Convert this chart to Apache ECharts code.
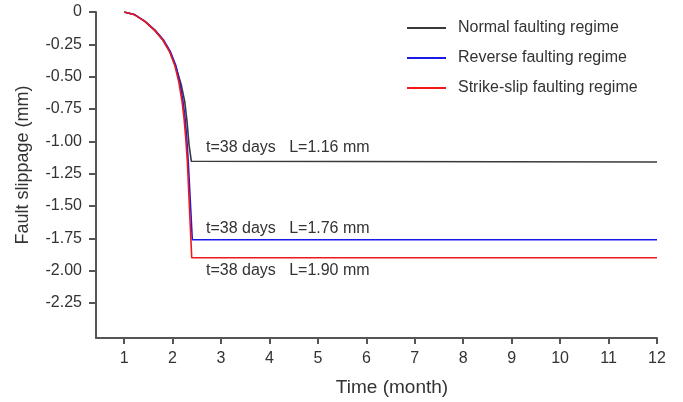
<!DOCTYPE html>
<html>
<head>
<meta charset="utf-8">
<script src="https://cdn.jsdelivr.net/npm/echarts@6/dist/echarts.min.js"></script>
<style>
  html, body { margin: 0; padding: 0; background: #fff; }
  #chart { width: 683px; height: 402px; }
</style>
</head>
<body>
<div id="chart"></div>
<script>
// Fault slippage over time for three faulting regimes
const seriesNames = ['Normal faulting regime', 'Reverse faulting regime', 'Strike-slip faulting regime'];

const normalTime = [1.000, 1.221, 1.427, 1.633, 1.804, 1.946, 2.078, 2.181, 2.252, 2.299, 2.340, 2.388, 2.412, 12];
const normalSlip = [0, -0.022, -0.073, -0.142, -0.219, -0.309, -0.436, -0.565, -0.693, -0.846, -1.025, -1.154, -1.16, -1.16];

const reverseTime = [1.000, 1.225, 1.433, 1.643, 1.819, 1.959, 2.066, 2.148, 2.216, 2.258, 2.293, 2.324, 2.408, 12];
const reverseSlip = [0, -0.022, -0.073, -0.142, -0.219, -0.309, -0.411, -0.539, -0.693, -0.820, -0.974, -1.154, -1.76, -1.76];

const strikeTime = [1.000, 1.221, 1.427, 1.633, 1.804, 1.942, 2.045, 2.128, 2.196, 2.237, 2.272, 2.305, 2.396, 12];
const strikeSlip = [0, -0.022, -0.073, -0.142, -0.219, -0.309, -0.411, -0.539, -0.693, -0.820, -0.974, -1.154, -1.90, -1.90];

// Time to stabilise (days) and final slippage (mm) for each regime
const stableDays = [38, 38, 38];
const finalSlip = [1.16, 1.76, 1.90];

const monthTicks = [1, 2, 3, 4, 5, 6, 7, 8, 9, 10, 11, 12];
const slipTicks = [0, -0.25, -0.5, -0.75, -1.0, -1.25, -1.5, -1.75, -2.0, -2.25];

const colors = ['#3a3a3a', '#1a1ae6', '#f01818'];
const notePos = [[2.69, -1.052], [2.69, -1.674], [2.69, -1.997]];

const FONT = 'Liberation Sans, Arial, sans-serif';
const TEXT = '#333';
const AXIS = '#555';

function pairs(xs, ys) { return xs.map((x, i) => [x, ys[i]]); }

const dataSets = [pairs(normalTime, normalSlip), pairs(reverseTime, reverseSlip), pairs(strikeTime, strikeSlip)];

const chart = echarts.init(document.getElementById('chart'), null, { renderer: 'canvas' });

chart.setOption({
  animation: false,
  backgroundColor: '#fff',
  textStyle: { fontFamily: FONT },
  grid: { left: 96, right: 26, top: 12, bottom: 62, containLabel: false },
  legend: {
    orient: 'vertical',
    left: 402,
    top: 15,
    itemWidth: 39,
    itemHeight: 14,
    itemGap: 14,
    icon: 'path://M0,0 L39,0 L39,2 L0,2 Z',
    textStyle: { fontSize: 16, color: TEXT, fontFamily: FONT, padding: [0, 0, 0, 7] },
    data: seriesNames
  },
  xAxis: {
    type: 'value',
    min: 0.42,
    max: 12,
    name: 'Time (month)',
    nameLocation: 'middle',
    nameGap: 40,
    nameTextStyle: { fontSize: 19, color: TEXT, fontFamily: FONT, padding: [0, 0, 0, 31] },
    axisLine: { show: true, onZero: false, lineStyle: { color: AXIS, width: 2 } },
    axisTick: { show: true, customValues: monthTicks, length: 6, lineStyle: { color: AXIS, width: 2 } },
    axisLabel: { customValues: monthTicks, margin: 13, fontSize: 16, color: TEXT, fontFamily: FONT },
    splitLine: { show: false }
  },
  yAxis: {
    type: 'value',
    min: -2.52,
    max: 0,
    name: 'Fault slippage (mm)',
    nameLocation: 'middle',
    nameGap: 64,
    nameTextStyle: { fontSize: 18, color: TEXT, fontFamily: FONT, padding: [0, 0, 0, 20] },
    axisLine: { show: true, onZero: false, lineStyle: { color: AXIS, width: 2 } },
    axisTick: { show: true, customValues: slipTicks, length: 7, lineStyle: { color: AXIS, width: 2 } },
    axisLabel: {
      customValues: slipTicks,
      margin: 14,
      fontSize: 16,
      color: TEXT,
      fontFamily: FONT,
      formatter: v => (v === 0 ? '0' : v.toFixed(2))
    },
    splitLine: { show: false }
  },
  series: seriesNames.map((name, i) => ({
    name: name,
    type: 'line',
    data: dataSets[i],
    symbol: 'none',
    color: colors[i],
    lineStyle: { color: colors[i], width: 1.6 },
    z: 2 + i,
    markPoint: {
      symbol: 'circle',
      symbolSize: 0,
      silent: true,
      label: {
        show: true,
        position: 'right',
        distance: 0,
        fontSize: 16,
        color: TEXT,
        fontFamily: FONT,
        formatter: () => 't=' + stableDays[i] + ' days   L=' + finalSlip[i].toFixed(2) + ' mm'
      },
      data: [{ coord: notePos[i] }]
    }
  }))
});
</script>
</body>
</html>
